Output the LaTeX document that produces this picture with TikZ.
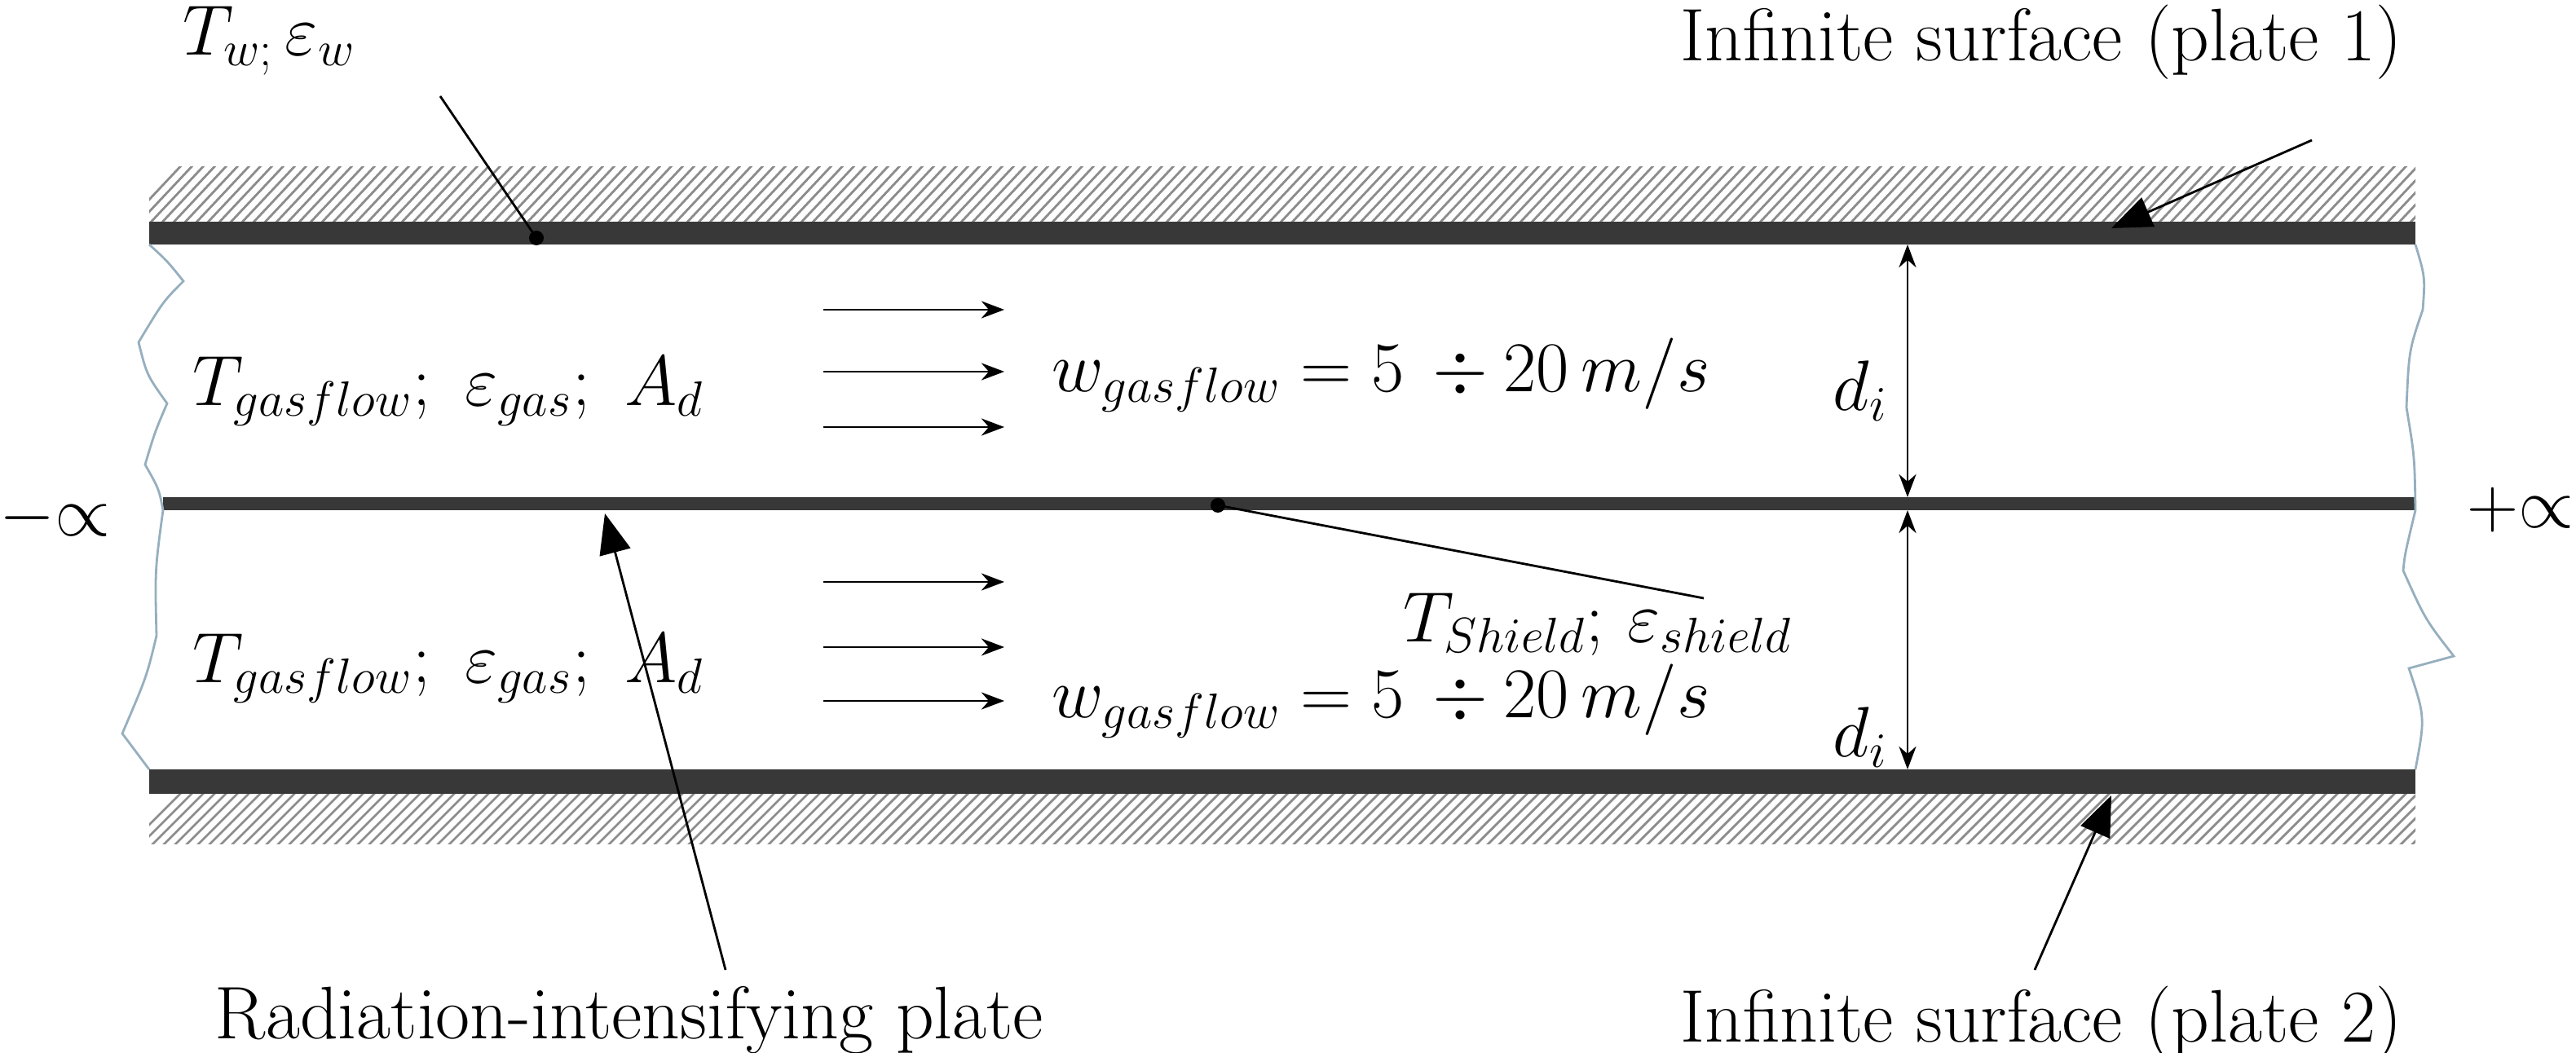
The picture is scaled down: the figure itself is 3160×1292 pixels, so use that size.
\documentclass[tikz,border=0pt]{standalone}
\usetikzlibrary{arrows.meta}
\begin{document}
\begin{tikzpicture}[x=0.01cm,y=-0.01cm,
  lbl/.style={font=\fontsize{26}{31}\selectfont, inner sep=0pt},
  plate/.style={fill=black!78, draw=none},
  flow/.style={-{Stealth[length=8pt,width=6pt]}, line width=0.8pt},
  lead/.style={line width=0.8pt},
  bigarr/.style={-{Triangle[length=14pt,width=11pt]}, line width=0.8pt},
  dim/.style={{Stealth[length=8pt,width=6pt]}-{Stealth[length=8pt,width=6pt]}, line width=0.8pt},
  wave/.style={draw={rgb,255:red,150;green,175;blue,190}, line width=0.8pt}]
\useasboundingbox (0,0) rectangle (3160,1292);
% hatching
\begin{scope}
\clip (183,205) rectangle (2963,272);
\foreach \i in {0,14,...,2900} \draw[black!45, line width=0.8pt] (150+\i,280) -- (230+\i,195);
\end{scope}
\begin{scope}
\clip (183,972) rectangle (2963,1036);
\foreach \i in {0,14,...,2900} \draw[black!45, line width=0.8pt] (150+\i,1045) -- (230+\i,965);
\end{scope}
% plates
\fill[plate] (183,272) rectangle (2963,300);
\fill[plate] (200,610) rectangle (2963,626);
\fill[plate] (183,944) rectangle (2963,974);
% wavy edges
\draw[wave] (183,300) .. controls (205,320) .. (225,345) .. controls (200,370) .. (170,420) .. controls (180,460) .. (205,495) .. controls (190,530) .. (178,570) .. controls (195,600) .. (200,626) .. controls (190,700) .. (192,780) .. controls (180,830) .. (150,900) .. controls (165,920) .. (183,944);
\draw[wave] (2963,300) .. controls (2975,340) .. (2972,380) .. controls (2955,430) .. (2952,500) .. controls (2962,560) .. (2963,626) .. controls (2950,680) .. (2948,700) .. controls (2975,760) .. (3010,805) -- (2955,820) .. controls (2975,880) .. (2963,944);
% labels
\node[lbl] (tw) at (330,50) {$T_{w;}\,\varepsilon_w$};
\coordinate (twp) at (658,292);
\fill (twp) circle (9);
\coordinate (tws) at (540,118);
\draw[lead] (tws) -- (twp);
\node[lbl] (p1) at (2504,52) {Infinite surface (plate 1)};
\coordinate (p1s) at (2836,172);
\coordinate (p1t) at (2590,280);
\draw[bigarr] (p1s) -- (p1t);
\node[lbl, anchor=west] (g1) at (236,480) {$T_{gasflow};\ \varepsilon_{gas};\ A_d$};
\node[lbl, anchor=west] (g2) at (236,820) {$T_{gasflow};\ \varepsilon_{gas};\ A_d$};
\foreach \y in {380,456,524,714,794,860} {
  \coordinate (fa\y) at (1010,\y); \coordinate (fb\y) at (1232,\y);
  \draw[flow] (fa\y) -- (fb\y);}
\node[lbl, anchor=west] (w1) at (1290,460) {$w_{gasflow}=5\,\div 20\,m/s$};
\node[lbl, anchor=west] (w2) at (1290,860) {$w_{gasflow}=5\,\div 20\,m/s$};
\coordinate (d1a) at (2340,300); \coordinate (d1b) at (2340,610);
\coordinate (d2a) at (2340,626); \coordinate (d2b) at (2340,944);
\draw[dim] (d1a) -- (d1b);
\draw[dim] (d2a) -- (d2b);
\node[lbl] (di1) at (2282,480) {$d_i$};
\node[lbl] (di2) at (2282,905) {$d_i$};
\node[lbl] (mi) at (68,636) {${-}{\propto}$};
\node[lbl] (pi) at (3092,626) {${+}{\propto}$};
\coordinate (sp) at (1494,620);
\fill (sp) circle (9);
\coordinate (ss) at (2090,734);
\draw[lead] (sp) -- (ss);
\node[lbl] (sh) at (1960,766) {$T_{Shield};\,\varepsilon_{shield}$};
\node[lbl] (rp) at (772,1252) {Radiation-intensifying plate};
\coordinate (rps) at (890,1190); \coordinate (rpt) at (742,630);
\draw[bigarr] (rps) -- (rpt);
\node[lbl] (p2) at (2504,1256) {Infinite surface (plate 2)};
\coordinate (p2s) at (2496,1190); \coordinate (p2t) at (2590,976);
\draw[bigarr] (p2s) -- (p2t);
\end{tikzpicture}
\end{document}
